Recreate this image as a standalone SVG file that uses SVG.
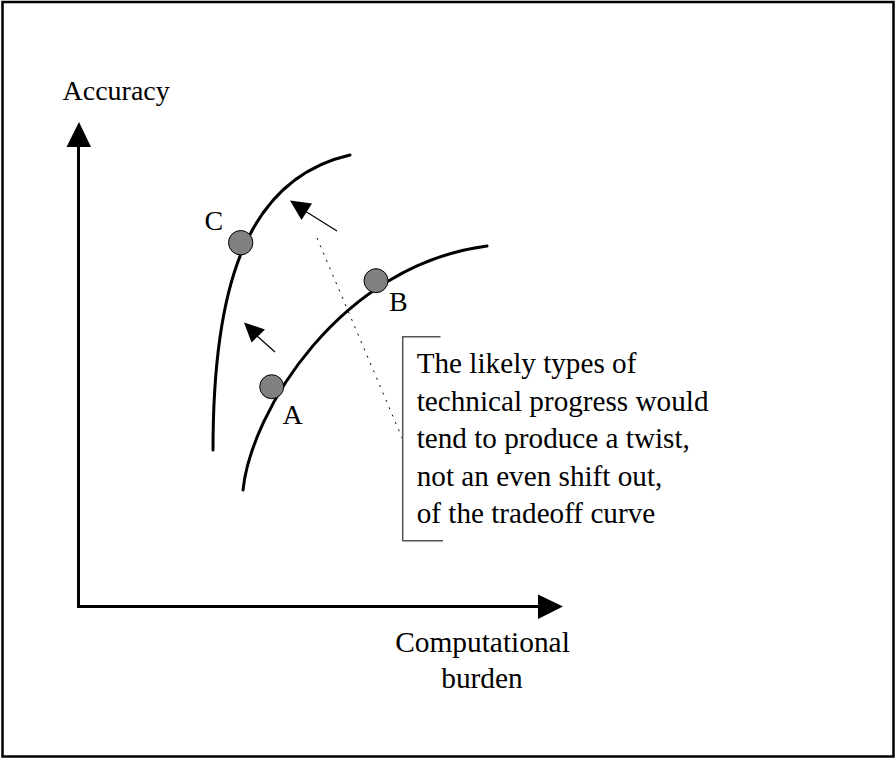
<svg xmlns="http://www.w3.org/2000/svg" width="896" height="758" viewBox="0 0 896 758">
  <style>
    .lbl { font-family: "Liberation Serif", "Times New Roman", serif; fill: #000; }
    .curve { fill: none; stroke: #000; stroke-width: 3; stroke-linecap: round; }
    .axis { fill: none; stroke: #000; stroke-width: 3; }
    .shift { fill: none; stroke: #000; stroke-width: 1.2; }
    .pt { fill: #808080; stroke: #000; stroke-width: 1; }
  </style>

  <!-- frame -->
  <rect x="2.5" y="2" width="891" height="754.5" fill="#fff" stroke="#000" stroke-width="2.5"/>

  <!-- axes -->
  <g id="axes">
    <polyline class="axis" points="78.5,140 78.5,606.5 545,606.5"/>
    <polygon points="79,122 66.5,147 91,147" fill="#000"/>
    <polygon points="563,606.5 538,594.5 538,619" fill="#000"/>
    <text class="lbl" x="62.5" y="99.5" font-size="28">Accuracy</text>
    <text class="lbl" x="482.5" y="651.5" font-size="29.4" text-anchor="middle">Computational</text>
    <text class="lbl" x="482" y="688" font-size="29.4" text-anchor="middle">burden</text>
  </g>

  <!-- tradeoff curves -->
  <g id="curve-new">
    <path class="curve" d="M213,450 C213,300 240,180 350,155"/>
  </g>
  <g id="curve-old">
    <path class="curve" d="M243,490 C251,412 340,265 487,246"/>
  </g>

  <!-- shift indicators -->
  <g id="connectors">
    <line x1="317" y1="238" x2="403" y2="440" stroke="#000" stroke-width="1" stroke-dasharray="2 6"/>
    <line class="shift" x1="337" y1="231" x2="305" y2="211"/>
    <polygon points="290,200.5 312,203.5 301.5,220" fill="#000"/>
    <line class="shift" x1="275" y1="352" x2="256" y2="335"/>
    <polygon points="244,322.5 265,329.5 251.5,342.5" fill="#000"/>
  </g>

  <!-- points on the curves -->
  <g id="point-C">
    <circle class="pt" cx="240.7" cy="242.7" r="12.2"/>
    <text class="lbl" x="204.5" y="230" font-size="28">C</text>
  </g>
  <g id="point-B">
    <circle class="pt" cx="376" cy="280.7" r="12"/>
    <text class="lbl" x="389" y="311" font-size="28">B</text>
  </g>
  <g id="point-A">
    <circle class="pt" cx="271.7" cy="386.7" r="12"/>
    <text class="lbl" x="282.5" y="424" font-size="28">A</text>
  </g>

  <!-- annotation -->
  <g id="note">
    <polyline points="440.5,336.7 402.7,336.7 402.7,540.7 443,540.7" fill="none" stroke="#555" stroke-width="1.5"/>
    <text class="lbl" font-size="29.2">
      <tspan x="416.7" y="373.3">The likely types of</tspan>
      <tspan x="416.7" y="410.8">technical progress would</tspan>
      <tspan x="416.7" y="448.3">tend to produce a twist,</tspan>
      <tspan x="416.7" y="485.8">not an even shift out,</tspan>
      <tspan x="416.7" y="523.3">of the tradeoff curve</tspan>
    </text>
  </g>
</svg>
